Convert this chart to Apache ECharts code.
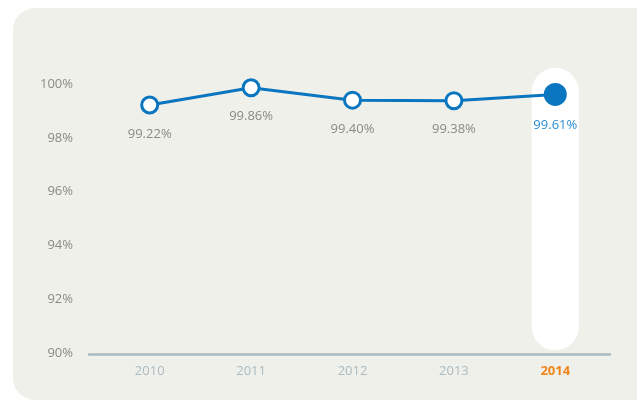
<!DOCTYPE html>
<html><head><meta charset="utf-8">
<script src="https://cdn.jsdelivr.net/npm/echarts@6/dist/echarts.min.js"></script>
<style>html,body{margin:0;padding:0;background:#fff}#c{width:637px;height:401px}</style>
</head><body><div id="c"></div>
<script>
const years = ['2010', '2011', '2012', '2013', '2014'];
const rates = [99.22, 99.86, 99.40, 99.38, 99.61];
const yTicks = [90, 92, 94, 96, 98, 100];
const highlightBottom = 90.1;
const highlightTop = 100.6;

const chart = echarts.init(document.getElementById('c'));
const F = '"Open Sans", "Noto Sans", sans-serif';
const last = years.length - 1;

chart.setOption({
  animation: false,
  graphic: [{
    type: 'rect', z: -10, silent: true,
    shape: { x: 13, y: 8, width: 650, height: 392, r: 22 },
    style: { fill: '#f0f0eb' }
  }],
  grid: [
    { left: 99, right: 31, top: 84, bottom: 48 },
    { left: 89, right: 27, top: 84, bottom: 47 }
  ],
  xAxis: [{
    type: 'category', gridIndex: 0, data: years, boundaryGap: true,
    axisLine: { show: false }, axisTick: { show: false },
    axisLabel: {
      margin: 12, fontFamily: F, fontSize: 13, color: '#a9bbc1',
      formatter: function (v) { return v === years[last] ? '{h|' + v + '}' : v; },
      rich: { h: { color: '#f0861c', fontWeight: 'bold', fontSize: 13, fontFamily: F } }
    }
  }, {
    type: 'value', gridIndex: 1, min: 0, max: 1,
    axisLine: { show: true, lineStyle: { color: '#a9b9bd', width: 2.5 } },
    axisTick: { show: false }, axisLabel: { show: false }, splitLine: { show: false }
  }],
  yAxis: [{
    type: 'value', gridIndex: 0, min: yTicks[0], max: yTicks[yTicks.length - 1], interval: 2,
    axisLine: { show: false }, axisTick: { show: false }, splitLine: { show: false },
    axisLabel: { margin: 26, fontFamily: F, fontSize: 13, color: '#8a8a86',
      formatter: function (v) { return v + '%'; } }
  }, {
    type: 'value', gridIndex: 1, show: false, min: 0, max: 1
  }],
  series: [{
    type: 'bar', xAxisIndex: 0, yAxisIndex: 0, barWidth: 47, z: 1, silent: true,
    stack: 'hl', clip: false,
    data: years.map(function (y, i) { return i === last ? highlightBottom : null; }),
    itemStyle: { color: 'rgba(0,0,0,0)' }
  }, {
    type: 'bar', xAxisIndex: 0, yAxisIndex: 0, barWidth: 47, z: 1, silent: true,
    stack: 'hl', clip: false,
    data: years.map(function (y, i) { return i === last ? highlightTop - highlightBottom : null; }),
    itemStyle: { color: '#ffffff', borderRadius: 24 }
  }, {
    type: 'line', xAxisIndex: 0, yAxisIndex: 0, z: 5,
    data: rates.map(function (v, i) {
      if (i === last) {
        return { value: v, symbolSize: 20, itemStyle: { color: '#0a76c0', borderColor: '#0a76c0' },
          label: { color: '#2a8fd2' } };
      }
      return v;
    }),
    symbol: 'circle', symbolSize: 16,
    lineStyle: { color: '#0a76c0', width: 3 },
    itemStyle: { color: '#ffffff', borderColor: '#0a76c0', borderWidth: 3 },
    label: { show: true, position: 'bottom', distance: 13, fontFamily: F, fontSize: 13,
      color: '#8a8a86', formatter: function (p) { return p.value.toFixed(2) + '%'; } }
  }]
});
</script></body></html>
